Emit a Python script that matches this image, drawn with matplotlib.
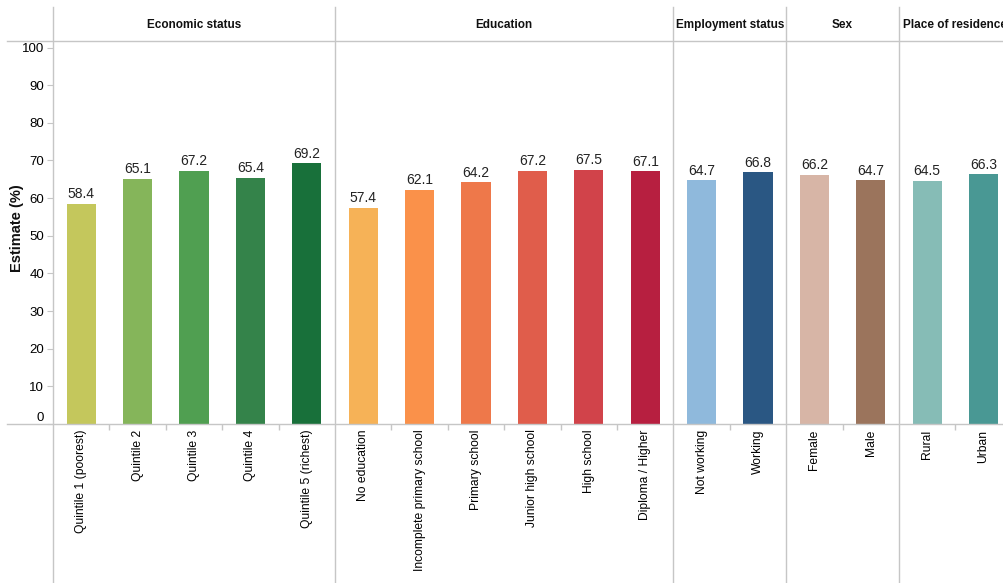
import matplotlib.pyplot as plt
from matplotlib.lines import Line2D

plt.rcParams['font.family'] = ['Liberation Sans', 'DejaVu Sans']

# data
groups = ['Economic status', 'Education', 'Employment status', 'Sex', 'Place of residence']

econ_labels = ['Quintile 1 (poorest)', 'Quintile 2', 'Quintile 3', 'Quintile 4', 'Quintile 5 (richest)']
econ_values = [58.4, 65.1, 67.2, 65.4, 69.2]
econ_colors = ['#c4c75c', '#85b55a', '#509f51', '#34834a', '#18703a']

edu_labels = ['No education', 'Incomplete primary school', 'Primary school',
              'Junior high school', 'High school', 'Diploma / Higher']
edu_values = [57.4, 62.1, 64.2, 67.2, 67.5, 67.1]
edu_colors = ['#f6b257', '#fa914a', '#ee784a', '#e05d4b', '#d1434a', '#b71f40']

emp_labels = ['Not working', 'Working']
emp_values = [64.7, 66.8]
emp_colors = ['#8fb9dc', '#2a5783']

sex_labels = ['Female', 'Male']
sex_values = [66.2, 64.7]
sex_colors = ['#d7b5a6', '#9b745c']

res_labels = ['Rural', 'Urban']
res_values = [64.5, 66.3]
res_colors = ['#86bcb6', '#499894']

panels = [
    (econ_labels, econ_values, econ_colors),
    (edu_labels, edu_values, edu_colors),
    (emp_labels, emp_values, emp_colors),
    (sex_labels, sex_values, sex_colors),
    (res_labels, res_values, res_colors),
]

W, H = 1004, 583
fig = plt.figure(figsize=(W / 100, H / 100), dpi=100)

line_col = '#c6c6c6'
left_px = 53
slot_px = 56.4
top_px = 41       # header line
base_px = 424     # zero line
ymax = 100 * (base_px - top_px) / (base_px - 47.5)

x0 = left_px
for i, (title, (labels, values, colors)) in enumerate(zip(groups, panels)):
    n = len(labels)
    w = n * slot_px
    ax = fig.add_axes([x0 / W, (H - base_px) / H, w / W, (base_px - top_px) / H])
    ax.bar(range(n), values, width=0.52, color=colors)
    for xi, v in enumerate(values):
        ax.annotate(f'{v:.1f}', (xi, v), xytext=(0, 2), textcoords='offset points',
                    ha='center', va='bottom', fontsize=10, color='#222222')
    ax.set_xlim(-0.5, n - 0.5)
    ax.set_ylim(0, ymax)
    ax.set_xticks(range(n))
    ax.set_xticklabels(labels, rotation=90, va='top', fontsize=8.7)
    ax.set_xticks([k + 0.5 for k in range(n - 1)], minor=True)
    ax.tick_params(axis='x', which='major', length=0, pad=4)
    ax.tick_params(axis='x', which='minor', length=4, color=line_col, width=1)
    for s in ax.spines.values():
        s.set_visible(False)
    if i == 0:
        ax.set_yticks(range(0, 101, 10))
        ax.tick_params(axis='y', length=4.5, color=line_col, labelsize=9.5, pad=2)
        ax.get_yticklabels()[0].set_va('bottom')
    else:
        ax.set_yticks([])
    ax.text(0.5, 1 + 16 / (base_px - top_px), title, transform=ax.transAxes,
            ha='center', va='center', fontsize=8.5, fontweight='bold', color='#111111')
    # panel separator
    fig.add_artist(Line2D([x0 / W, x0 / W], [0, 1 - 7 / H], color=line_col, lw=1))
    x0 += w

fig.text(17 / W, 1 - 228 / H, 'Estimate (%)', rotation=90, ha='center', va='center',
         fontsize=10.5, fontweight='bold', color='#111111')

# header and base lines
fig.add_artist(Line2D([7 / W, 1], [1 - top_px / H, 1 - top_px / H], color=line_col, lw=1))
fig.add_artist(Line2D([7 / W, 1], [1 - base_px / H, 1 - base_px / H], color=line_col, lw=1))

fig.savefig('out.png', dpi=100)
